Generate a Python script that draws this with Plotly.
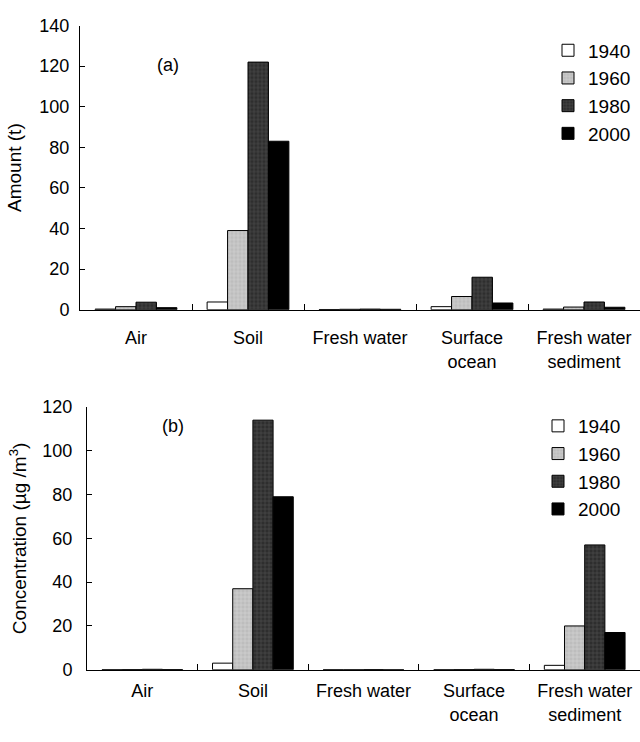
import plotly.graph_objects as go

categories = ["Air", "Soil", "Fresh water", "Surface<br>ocean", "Fresh water<br>sediment"]
years = ["1940", "1960", "1980", "2000"]

# Panel (a): Amount (t)
amount_1940 = [0.3, 3.8, 0.1, 1.5, 0.3]
amount_1960 = [1.5, 39, 0.2, 6.5, 1.3]
amount_1980 = [3.7, 122, 0.3, 16, 3.8]
amount_2000 = [1.0, 83, 0.2, 3.3, 1.2]

# Panel (b): Concentration (ug/m3)
conc_1940 = [0.0, 3, 0.0, 0.0, 2]
conc_1960 = [0.1, 37, 0.0, 0.1, 20]
conc_1980 = [0.2, 114, 0.1, 0.2, 57]
conc_2000 = [0.1, 79, 0.0, 0.1, 17]

yticks_a = [0, 20, 40, 60, 80, 100, 120, 140]
yticks_b = [0, 20, 40, 60, 80, 100, 120]

styles = {
    "1940": dict(color="white", pattern=None),
    "1960": dict(color="#bdbdbd", pattern=dict(shape="+", fgcolor="#f0f0f0", size=4, solidity=0.25)),
    "1980": dict(color="#2e2e2e", pattern=dict(shape="+", fgcolor="#8a8a8a", size=4, solidity=0.2)),
    "2000": dict(color="black", pattern=None),
}

FONT = "Arial, Liberation Sans, sans-serif"
FS = 18
fig = go.Figure()

series_a = [amount_1940, amount_1960, amount_1980, amount_2000]
series_b = [conc_1940, conc_1960, conc_1980, conc_2000]

def make_marker(yr):
    st = styles[yr]
    marker = dict(color=st["color"], line=dict(color="black", width=1))
    if st["pattern"]:
        marker["pattern"] = st["pattern"]
    return marker

for yr, vals in zip(years, series_a):
    fig.add_trace(go.Bar(x=categories, y=vals, name=yr, marker=make_marker(yr),
                         xaxis="x", yaxis="y", legend="legend"))

for yr, vals in zip(years, series_b):
    fig.add_trace(go.Bar(x=categories, y=vals, name=yr, marker=make_marker(yr),
                         xaxis="x2", yaxis="y2", legend="legend2"))

H = 742.0
W = 640.0
def py(pix):
    return 1 - pix / H

axis_font = dict(family=FONT, size=FS, color="black")

xcommon = dict(type="category", showline=True, linecolor="black", linewidth=1,
               ticks="inside", ticklen=6, tickcolor="black", tickson="boundaries",
               tickfont=axis_font, showgrid=False, zeroline=False,
               range=[-0.5, 4.5], fixedrange=True)
ycommon = dict(showline=True, linecolor="black", linewidth=1, ticks="inside",
               ticklen=5, tickcolor="black", tickfont=axis_font, showgrid=False,
               zeroline=False)

fig.update_layout(
    width=640, height=742, autosize=False,
    margin=dict(l=0, r=0, t=0, b=0),
    paper_bgcolor="white", plot_bgcolor="white",
    barmode="group", bargap=0.27, bargroupgap=0,
    font=dict(family=FONT, size=FS, color="black"),
    xaxis=dict(**xcommon, domain=[80 / W, 1.0], anchor="y", ticklabelstandoff=12),
    yaxis=dict(**ycommon, domain=[py(308), py(16)], range=[0, 140],
               tickvals=yticks_a, anchor="x", ticklabelstandoff=6,
               title=dict(text="Amount (t)", font=dict(family=FONT, size=19), standoff=12)),
    xaxis2=dict(**xcommon, domain=[87 / W, 1.0], anchor="y2", ticklabelstandoff=5),
    yaxis2=dict(**ycommon, domain=[py(678), py(408)], range=[0, 120],
                tickvals=yticks_b, anchor="x2", ticklabelstandoff=10,
                title=dict(text="Concentration (µg /m<sup>3</sup>)", font=dict(family=FONT, size=19), standoff=10)),
    legend=dict(x=548 / W, y=py(22), xanchor="left", yanchor="top",
                font=dict(family=FONT, size=19), itemwidth=30,
                bgcolor="rgba(0,0,0,0)", borderwidth=0),
    legend2=dict(x=538 / W, y=py(408), xanchor="left", yanchor="top",
                 font=dict(family=FONT, size=19), itemwidth=30,
                 bgcolor="rgba(0,0,0,0)", borderwidth=0),
    annotations=[
        dict(text="(a)", x=155 / W, y=py(44), xref="paper", yref="paper",
             showarrow=False, font=dict(family=FONT, size=18)),
        dict(text="(b)", x=160 / W, y=py(428), xref="paper", yref="paper",
             showarrow=False, font=dict(family=FONT, size=18)),
    ],
)

fig.write_html(
    "out.html",
    config={"displayModeBar": False},
    post_script="document.body.style.margin='0';document.body.style.padding='0';"
                "document.documentElement.style.overflow='hidden';",
)
